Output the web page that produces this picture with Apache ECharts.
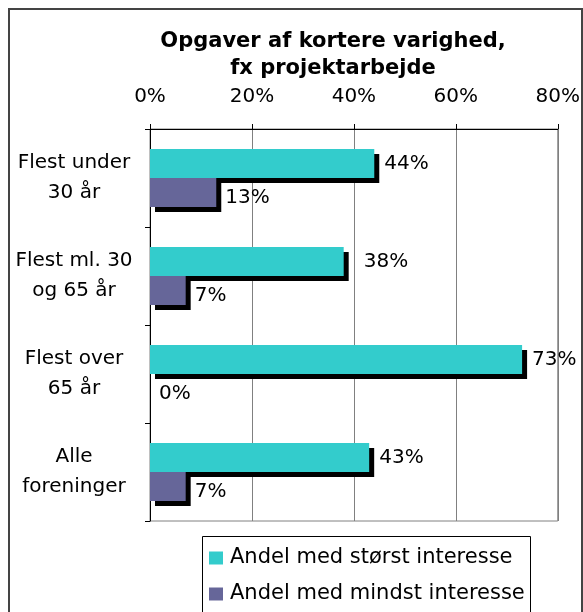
<!DOCTYPE html>
<html>
<head>
<meta charset="utf-8">
<script src="https://cdn.jsdelivr.net/npm/echarts@6/dist/echarts.min.js"></script>
<style>
	html, body { margin: 0; padding: 0; background: #fff; }
	#chart { width: 583px; height: 612px; }
</style>
</head>
<body>
<div id="chart"></div>
<script>
	// data
	const categories = ['Flest under\n30 år', 'Flest ml. 30\nog 65 år', 'Flest over\n65 år', 'Alle\nforeninger'];
	const storst = [44, 38, 73, 43];   // Andel med størst interesse
	const mindst = [13, 7, 0, 7];      // Andel med mindst interesse
	const seriesNames = ['Andel med størst interesse', 'Andel med mindst interesse'];

	const font = 'DejaVu Sans';
	let chart = echarts.init(document.getElementById('chart'), null, { renderer: 'canvas' });

	const barShadow = {
		shadowColor: '#000',
		shadowBlur: 0,
		shadowOffsetX: 5,
		shadowOffsetY: 5
	};

	// the 38% label sits a bit further out in the original
	const storstData = storst.map((v, i) => i === 1 ? { value: v, label: { distance: 20 } } : v);

	const option = {
		animation: false,
		textStyle: { fontFamily: font },
		title: {
			text: 'Opgaver af kortere varighed,\nfx projektarbejde',
			left: 328,
			top: 23,
			textAlign: 'center',
			textStyle: { fontFamily: font, fontSize: 21, fontWeight: 'bold', lineHeight: 27, color: '#000' }
		},
		graphic: [
			// outer frame
			{ type: 'rect', shape: { x: 9, y: 9, width: 573, height: 700 }, style: { fill: 'none', stroke: '#444', lineWidth: 2 }, silent: true },
			// legend box
			{ type: 'rect', shape: { x: 202.5, y: 536.5, width: 328, height: 100 }, style: { fill: '#fff', stroke: '#000', lineWidth: 1 }, silent: true }
		],
		legend: {
			orient: 'vertical',
			left: 209,
			top: 547,
			padding: 0,
			itemWidth: 14,
			itemHeight: 13,
			itemGap: 14,
			icon: 'rect',
			data: seriesNames,
			textStyle: { fontFamily: font, fontSize: 21, lineHeight: 22, color: '#000', padding: [0, 0, 0, 2] }
		},
		grid: {
			left: 150,
			right: 25,
			top: 129,
			bottom: 91,
			show: true,
			borderColor: '#808080',
			borderWidth: 1
		},
		xAxis: {
			type: 'value',
			position: 'top',
			min: 0,
			max: 80,
			interval: 20,
			axisLine: { show: true, lineStyle: { color: '#000', width: 1 } },
			axisTick: { show: true, length: 5, lineStyle: { color: '#000' } },
			splitLine: { show: true, lineStyle: { color: '#808080', width: 1 } },
			axisLabel: { formatter: '{value}%', fontSize: 20, color: '#000', margin: 22, fontFamily: font }
		},
		yAxis: {
			type: 'category',
			inverse: true,
			data: categories,
			axisLine: { show: true, lineStyle: { color: '#000', width: 1 } },
			axisTick: { show: true, length: 5, lineStyle: { color: '#000' } },
			axisLabel: { fontSize: 20, lineHeight: 30, color: '#000', align: 'center', margin: 76, fontFamily: font }
		},
		series: [
			{
				name: seriesNames[0],
				type: 'bar',
				data: storstData,
				barWidth: 29,
				barGap: '0%',
				itemStyle: Object.assign({ color: '#33CCCC' }, barShadow),
				label: {
					show: true,
					position: 'right',
					distance: 10,
					formatter: '{c}%',
					fontSize: 20,
					color: '#000',
					fontFamily: font
				}
			},
			{
				name: seriesNames[1],
				type: 'bar',
				data: mindst,
				barWidth: 29,
				barGap: '0%',
				itemStyle: Object.assign({ color: '#666699' }, barShadow),
				label: {
					show: true,
					position: 'right',
					distance: 9,
					offset: [0, 5],
					formatter: '{c}%',
					fontSize: 20,
					color: '#000',
					fontFamily: font
				}
			}
		]
	};

	chart.setOption(option);
</script>
</body>
</html>
